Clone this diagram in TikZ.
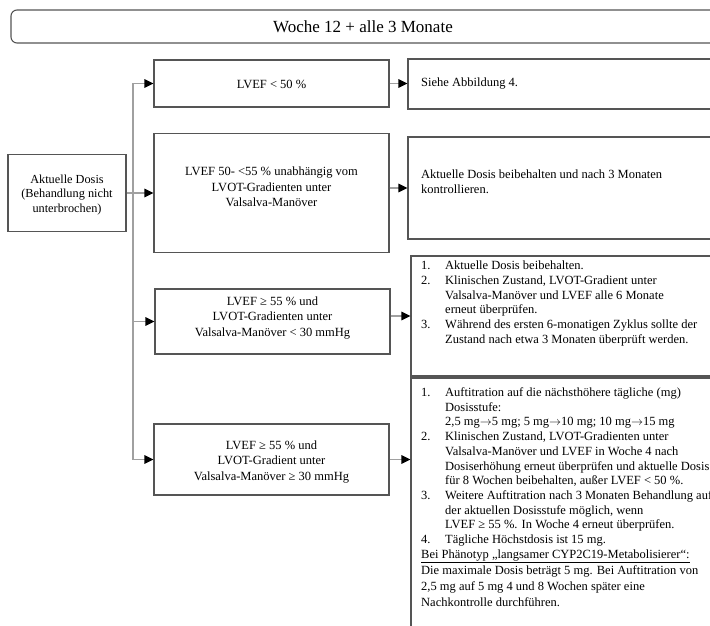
\documentclass[tikz,border=0pt]{standalone}
\usepackage{fontspec}
\setmainfont{Liberation Serif}
\usetikzlibrary{arrows.meta}
\definecolor{boxline}{HTML}{555555}
\definecolor{connline}{HTML}{A0A0A0}
\tikzset{
  box/.style={draw=boxline, line width=1.1pt, rectangle, inner sep=0pt, fill=white},
  ctext/.style={align=center, inner sep=0pt, font=\fontsize{12.5}{15.5}\selectfont},
  ltext/.style={align=left, inner sep=0pt, anchor=north west, font=\fontsize{12.5}{14.7}\selectfont},
  conn/.style={draw=connline, line width=1.2pt},
  arr/.style={conn, -{Triangle[length=9pt,width=8.5pt,color=black]}}
}
\newcommand{\itm}[1]{\makebox[24pt][l]{#1}}
\newcommand{\ind}{\hspace*{24pt}}
\newcommand{\tto}{\ensuremath{\mathord{\rightarrow}}}
\begin{document}
\begin{tikzpicture}[x=1pt,y=-1pt]
\useasboundingbox (0,0) rectangle (710,626);
\clip (0,0) rectangle (710,626);
% banner
\node[box, rounded corners=6pt, minimum width=740pt, minimum height=33pt] (ban) at (381,26.5) {};
\node[inner sep=0pt, font=\fontsize{17}{20}\selectfont] (bant) at (363,27) {Woche 12 + alle 3 Monate};
% left box
\node[box, minimum width=118pt, minimum height=77pt] (L) at (67,193) {};
\node[ctext, font=\fontsize{12.3}{14.6}\selectfont] (Lt) at (67,195) {Aktuelle Dosis\\(Behandlung nicht\\unterbrochen)};
% middle boxes
\node[box, minimum width=235pt, minimum height=47pt] (B1) at (271.5,83.5) {};
\node[ctext] (B1t) at (271.5,84) {LVEF < 50 \%};
\node[box, minimum width=235pt, minimum height=119pt] (B2) at (271.5,193) {};
\node[ctext] (B2t) at (271.5,187) {LVEF 50- <55 \% unabhängig vom\\LVOT-Gradienten unter\\Valsalva-Manöver};
\node[box, minimum width=235pt, minimum height=65pt] (B3) at (272.5,321.5) {};
\node[ctext] (B3t) at (272.5,318) {LVEF ≥ 55 \% und\\LVOT-Gradienten unter\\Valsalva-Manöver < 30 mmHg};
\node[box, minimum width=235pt, minimum height=71pt] (B4) at (271.5,459.5) {};
\node[ctext] (B4t) at (271.5,462) {LVEF ≥ 55 \% und\\LVOT-Gradient unter\\Valsalva-Manöver ≥ 30 mmHg};
% right boxes
\node[box, minimum width=400pt, minimum height=50pt] (R1) at (608,84) {};
\node[ltext, anchor=west] (R1t) at (421,84) {Siehe Abbildung 4.};
\node[box, minimum width=400pt, minimum height=102pt] (R2) at (608,188) {};
\node[ltext, anchor=west] (R2t) at (421,182) {Aktuelle Dosis beibehalten und nach 3 Monaten\\kontrollieren.};
\node[box, minimum width=400pt, minimum height=120pt] (R3) at (611,316) {};
\node[ltext] (R3t) at (421,261) {\itm{1.}Aktuelle Dosis beibehalten.\\
\itm{2.}Klinischen Zustand, LVOT-Gradient unter\\
\ind Valsalva-Manöver und LVEF alle 6 Monate\\
\ind erneut überprüfen.\\
\itm{3.}Während des ersten 6-monatigen Zyklus sollte der\\
\ind Zustand nach etwa 3 Monaten überprüft werden.};
\node[box, minimum width=400pt, minimum height=322pt] (R4) at (611,539) {};
\node[ltext] (R4t) at (421,387.5) {\itm{1.}Auftitration auf die nächsthöhere tägliche (mg)\\
\ind Dosisstufe:\\
\ind 2,5 mg\tto 5 mg; 5 mg\tto 10 mg; 10 mg\tto 15 mg\\
\itm{2.}Klinischen Zustand, LVOT-Gradienten unter\\
\ind Valsalva-Manöver und LVEF in Woche 4 nach\\
\ind Dosiserhöhung erneut überprüfen und aktuelle Dosis\\
\ind für 8 Wochen beibehalten, außer LVEF < 50 \%.\\
\itm{3.}Weitere Auftitration nach 3 Monaten Behandlung auf\\
\ind der aktuellen Dosisstufe möglich, wenn\\
\ind LVEF ≥ 55 \%. In Woche 4 erneut überprüfen.\\
\itm{4.}Tägliche Höchstdosis ist 15 mg.};
\node[ltext, font=\fontsize{12.5}{16}\selectfont] (R4b) at (421,549.5) {\underline{Bei Phänotyp „langsamer CYP2C19-Metabolisierer“:}\\
Die maximale Dosis beträgt 5 mg. Bei Auftitration von\\
2,5 mg auf 5 mg 4 und 8 Wochen später eine\\
Nachkontrolle durchführen.};
% connectors
\coordinate (vt) at (133,83.5);
\coordinate (vb) at (133,459.5);
\draw[conn] (vt) -- (vb);
\draw[conn] (L.east) -- (vt |- L.east);
\draw[arr] (vt) -- (B1.west);
\draw[arr] (vt |- B2.west) -- (B2.west);
\draw[arr] (vt |- B3.west) -- (B3.west);
\draw[arr] (vb) -- (B4.west);
\draw[arr] (B1.east) -- (B1.east -| R1.west);
\draw[arr] (B2.east |- R2.west) -- (R2.west);
\draw[arr] (B3.east |- R3.west) -- (R3.west);
\draw[arr] (B4.east) -- (B4.east -| R4.west);
\end{tikzpicture}
\end{document}
